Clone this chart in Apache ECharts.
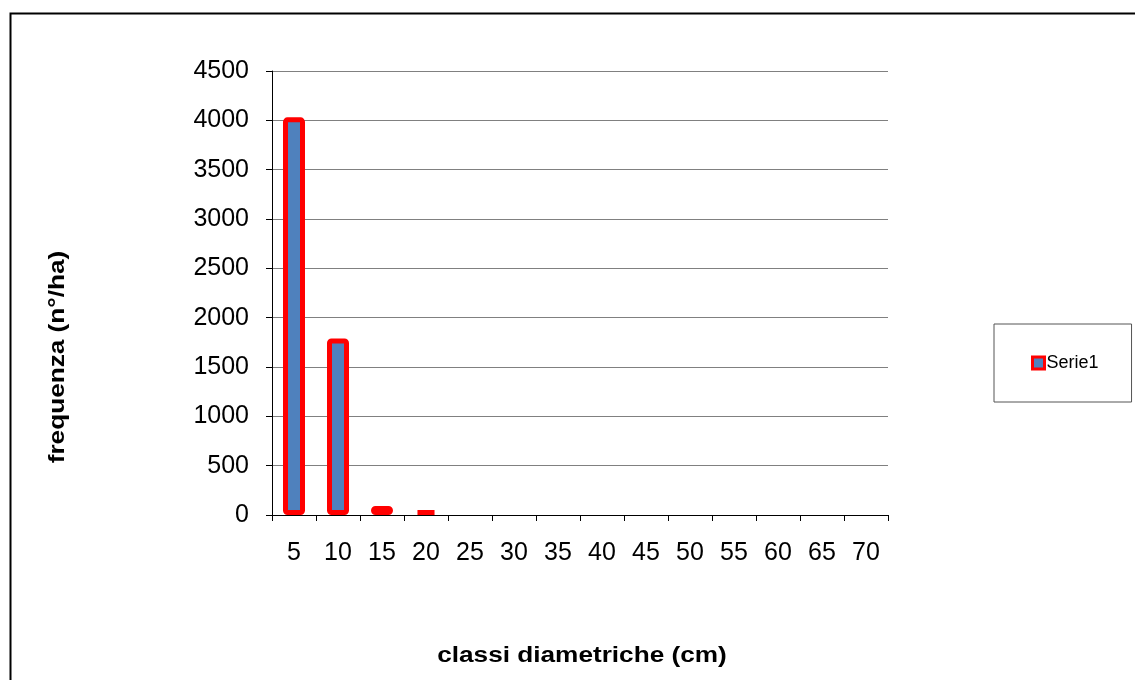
<!DOCTYPE html>
<html><head><meta charset="utf-8">
<script src="https://cdn.jsdelivr.net/npm/echarts@6/dist/echarts.min.js"></script>
<style>html,body{margin:0;padding:0;background:#fff}#c{width:1135px;height:680px}</style>
</head><body><div id="c"></div>
<script>
const categories = ['5','10','15','20','25','30','35','40','45','50','55','60','65','70'];
const serie1 = [4030, 1790, 92, 50, 0, 0, 0, 0, 0, 0, 0, 0, 0, 0];
const yTicks = [0, 500, 1000, 1500, 2000, 2500, 3000, 3500, 4000, 4500];
const seriesName = 'Serie1';
const xTitle = 'classi diametriche (cm)';
const yTitle = 'frequenza (n°/ha)';

const chart = echarts.init(document.getElementById('c'), null, {renderer: 'canvas'});
const font = 'Liberation Sans, Arial, sans-serif';
const barData = serie1.map(v => v === 0 ? {value: v, itemStyle: {borderWidth: 0}} : v);
chart.setOption({
  animation: false,
  textStyle: {fontFamily: font},
  graphic: [{
    type: 'rect', left: 8, top: 11, silent: true,
    shape: {width: 1140, height: 680},
    style: {fill: 'none', stroke: '#000', lineWidth: 2}
  }, {
    type: 'text', x: 582, y: 656, scaleX: 1.19, silent: true,
    style: {text: xTitle, fontSize: 22, fontWeight: 'bold', fill: '#000', fontFamily: font,
      align: 'center', verticalAlign: 'middle'}
  }, {
    type: 'text', x: 58, y: 357, rotation: Math.PI / 2, scaleX: 1.19, silent: true,
    style: {text: yTitle, fontSize: 22, fontWeight: 'bold', fill: '#000', fontFamily: font,
      align: 'center', verticalAlign: 'middle'}
  }],
  grid: {left: 272, right: 247, top: 71, bottom: 165, containLabel: false},
  legend: {
    show: true, left: 994, top: 324, orient: 'vertical',
    padding: [30, 33, 30, 37],
    borderColor: '#555', borderWidth: 1,
    itemWidth: 12, itemHeight: 12, itemGap: 4,
    icon: 'rect',
    itemStyle: {borderWidth: 3, borderColor: '#ff0000', color: '#4f81bd'},
    textStyle: {fontSize: 18, color: '#000', fontFamily: font, padding: [0,0,0,-3]},
    data: [seriesName]
  },
  xAxis: {
    type: 'category', data: categories,
    axisLine: {lineStyle: {color: '#000', width: 1}},
    axisTick: {show: true, length: 6, lineStyle: {color: '#000'}},
    axisLabel: {fontSize: 25, color: '#000', margin: 26, fontFamily: font}
  },
  yAxis: {
    type: 'value', min: 0, max: 4500, interval: 500,
    axisLine: {show: true, lineStyle: {color: '#000', width: 1}},
    axisTick: {show: true, length: 6, lineStyle: {color: '#000'}},
    axisLabel: {fontSize: 25, color: '#000', margin: 23, fontFamily: font,
      formatter: v => yTicks.includes(v) ? String(v) : ''},
    splitLine: {show: true, lineStyle: {color: '#808080', width: 1}}
  },
  series: [{
    name: seriesName, type: 'bar', data: barData,
    barWidth: 22,
    itemStyle: {color: '#4f81bd', borderColor: '#ff0000', borderWidth: 5, borderRadius: 2}
  }]
});
</script></body></html>
